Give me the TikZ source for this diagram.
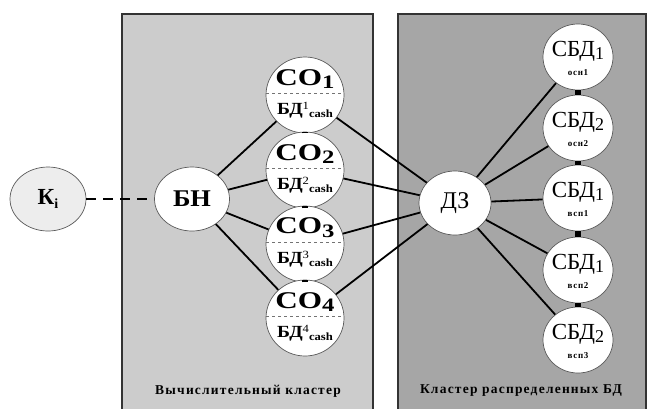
\documentclass[tikz,border=0pt]{standalone}
\usepackage{fontspec}
\setmainfont{Liberation Serif}
\usetikzlibrary{shapes.geometric,calc}
\newcommand{\lowidx}[2]{\raisebox{-0.35ex}{\fontsize{#1}{#1}\selectfont #2}}
\begin{document}
\begin{tikzpicture}[x=1pt,y=-1pt,
  panel/.style={draw=black!80,line width=1.6pt},
  oval/.style={ellipse,draw=black!65,line width=0.7pt,fill=white,inner sep=0pt},
  conode/.style={oval,minimum width=78pt,minimum height=76pt},
  dbnode/.style={oval,minimum width=70pt,minimum height=66pt},
  link/.style={line width=1.8pt},
  stack/.style={line width=5.5pt},
  cotext/.style={font=\fontsize{24}{24}\selectfont\bfseries\addfontfeature{FakeStretch=1.3}},
  subtext/.style={font=\fontsize{17}{17}\selectfont\bfseries\addfontfeature{FakeStretch=1.15}},
  dbtext/.style={font=\fontsize{23}{23}\selectfont},
  tinytext/.style={font=\fontsize{9}{9}\selectfont\bfseries\addfontfeature{LetterSpace=8}},
  caption/.style={font=\fontsize{13.5}{13.5}\selectfont\bfseries\addfontfeature{LetterSpace=9}}]
\useasboundingbox (0,0) rectangle (647,408);
% cluster panels
\fill[black!20] (122,14) rectangle (373,412);
\draw[panel] (122,412) -- (122,14) -- (373,14) -- (373,412);
\fill[black!35] (398,14) rectangle (646,412);
\draw[panel] (398,412) -- (398,14) -- (646,14) -- (646,412);
\node[caption] (capL) at (248,391) {Вычислительный кластер};
\node[caption] (capR) at (521,391) {Кластер распределенных БД};

% client and balancer
\node[oval,fill=black!7,minimum width=76pt,minimum height=64pt] (k) at (48,199)
  {\fontsize{23}{23}\selectfont\bfseries К\lowidx{14}{i}};
\node[oval,minimum width=75pt,minimum height=64pt] (bn) at (192,199)
  {\fontsize{24}{24}\selectfont\bfseries\addfontfeature{FakeStretch=1.1}БН};
\node[oval,minimum width=72pt,minimum height=64pt] (dz) at (455,203)
  {\fontsize{24}{24}\selectfont ДЗ};

% compute nodes
\foreach \i/\y in {1/95,2/170,3/244,4/318}{
  \node[conode] (co\i) at (305,\y) {};
  \draw[dashed,black!55,line width=0.6pt] ($(co\i.west)+(0.5,-2)$) -- ($(co\i.east)+(-0.5,-2)$);
  \node[cotext] (cot\i) at (305,\y-16) {СО\lowidx{19}{\i}};
  \node[subtext] (cob\i) at (305,\y+15)
    {БД\raisebox{0.7ex}{\fontsize{11}{11}\selectfont\mdseries\i}\lowidx{11}{cash}};
}

% database nodes
\foreach \i/\y/\n/\s in {1/57/1/осн1,2/128/2/осн2,3/198/1/всп1,4/270/1/всп2,5/340/2/всп3}{
  \node[dbnode] (db\i) at (578,\y) {};
  \node[dbtext] (dbt\i) at (578,\y-6) {СБД\lowidx{18}{\n}};
  \node[tinytext] (dbs\i) at (578,\y+16) {\s};
}

% connectors
\draw[link,dashed,dash pattern=on 10pt off 7pt] (k) -- (bn);
\foreach \i in {1,2,3,4}{
  \draw[link] (bn) -- (co\i);
  \draw[link] (co\i) -- (dz);
}
\foreach \i in {1,...,5}{
  \draw[link] (dz) -- (db\i);
}
\draw[stack] (co1.south) -- (co2.north);
\draw[stack] (co2.south) -- (co3.north);
\draw[stack] (co3.south) -- (co4.north);
\foreach \a/\b in {1/2,2/3,3/4,4/5}{
  \draw[stack] (db\a.south) -- (db\b.north);
}
\end{tikzpicture}
\end{document}
